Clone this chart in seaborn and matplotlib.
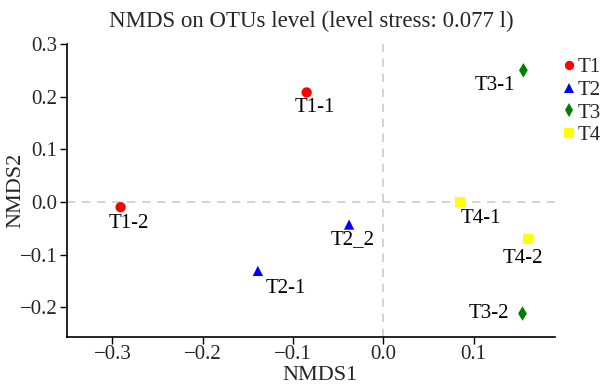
import matplotlib

matplotlib.use("Agg")
import matplotlib.pyplot as plt
import pandas as pd
import seaborn as sns
from matplotlib.ticker import FuncFormatter

# sample scores
samples = ["T1-1", "T1-2", "T2-1", "T2_2", "T3-1", "T3-2", "T4-1", "T4-2"]
groups = ["T1", "T1", "T2", "T2", "T3", "T3", "T4", "T4"]
nmds1 = [-0.085, -0.291, -0.139, -0.038, 0.155, 0.154, 0.085, 0.160]
nmds2 = [0.208, -0.010, -0.131, -0.043, 0.250, -0.212, 0.000, -0.071]

group_order = ["T1", "T2", "T3", "T4"]
palette = {"T1": "#ff0000", "T2": "#0000ff", "T3": "#008000", "T4": "#ffff00"}
markers = {"T1": "o", "T2": "^", "T3": "d", "T4": "s"}

# label offsets from the point, in pixels (x right, y up)
label_offsets = {
    "T1-1": (8, -15), "T1-2": (8, -16), "T2-1": (28, -18), "T2_2": (4, -15),
    "T3-1": (-29, -15), "T3-2": (-34, 0), "T4-1": (21, -17), "T4-2": (-5, -19),
}

df = pd.DataFrame({"sample": samples, "group": groups,
                   "NMDS1": nmds1, "NMDS2": nmds2})

sns.set_theme(style="ticks")
plt.rcParams["font.family"] = ["Liberation Serif", "DejaVu Serif"]

fig = plt.figure(figsize=(6.03, 3.85), dpi=100)
ax = fig.add_axes([0.1116, 0.1255, 0.8088, 0.7602])

ax.axhline(0, color="#cccccc", lw=1.2, ls=(0, (5, 4)), zorder=0)
ax.axvline(0, color="#cccccc", lw=1.2, ls=(0, (5, 4)), zorder=0)

sns.scatterplot(data=df, x="NMDS1", y="NMDS2", hue="group", style="group",
                hue_order=group_order, style_order=group_order,
                palette=palette, markers=markers, s=55, linewidth=0,
                ax=ax, zorder=3)

for s, x, y in zip(samples, nmds1, nmds2):
    ax.annotate(s, (x, y), xytext=label_offsets[s], textcoords="offset pixels",
                ha="center", va="center", fontsize=15, color="black")

minus_fmt = FuncFormatter(lambda v, p: f"{v:.1f}".replace("-", "\u2212"))
ax.set_xlim(-0.35, 0.19)
ax.set_ylim(-0.256, 0.3)
ax.set_xticks([-0.3, -0.2, -0.1, 0.0, 0.1])
ax.set_yticks([-0.2, -0.1, 0.0, 0.1, 0.2, 0.3])
ax.xaxis.set_major_formatter(minus_fmt)
ax.yaxis.set_major_formatter(minus_fmt)
ax.tick_params(labelsize=15, length=5, width=1, color="black", pad=2)
ax.tick_params(axis="x", pad=1)
for side in ("left", "bottom"):
    ax.spines[side].set_color("black")
    ax.spines[side].set_linewidth(1.2)
sns.despine(ax=ax)

ax.set_xlabel("NMDS1", fontsize=16)
ax.set_ylabel("NMDS2", fontsize=16)
ax.xaxis.set_label_coords(0.518, -0.1)
ax.yaxis.set_label_coords(-0.085, 0.5)
ax.set_title("NMDS on OTUs level (level stress: 0.077 l)", fontsize=16.5, pad=12)

sns.move_legend(ax, "upper left", bbox_to_anchor=(1.0, 0.982), title=None,
                frameon=False, fontsize=15, handlelength=0.5,
                handletextpad=0.2, labelspacing=0.15, borderaxespad=0,
                markerscale=0.9)

fig.savefig("out.png", dpi=100)
